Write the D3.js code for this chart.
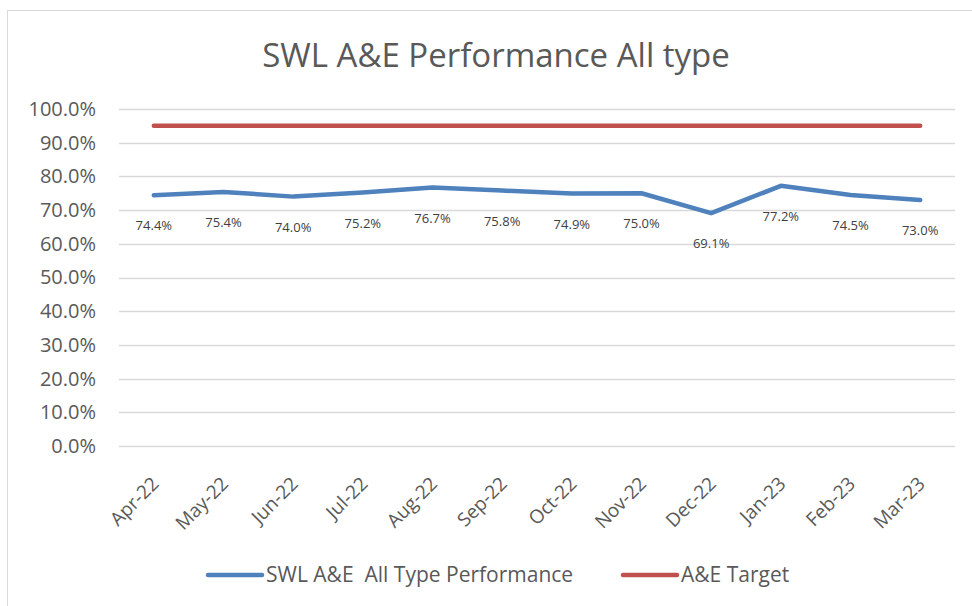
<!DOCTYPE html>
<html>
<head>
<meta charset="utf-8">
<script src="https://cdn.jsdelivr.net/npm/d3@7"></script>
<style>
body { margin: 0; background: #fff; }
</style>
</head>
<body>
<div id="root"></div>
<script>
var width = 972;
var height = 606;

// data
var months = ["Apr-22", "May-22", "Jun-22", "Jul-22", "Aug-22", "Sep-22",
	"Oct-22", "Nov-22", "Dec-22", "Jan-23", "Feb-23", "Mar-23"];
var performance = [74.4, 75.4, 74.0, 75.2, 76.7, 75.8, 74.9, 75.0, 69.1, 77.2, 74.5, 73.0];
var target = [95, 95, 95, 95, 95, 95, 95, 95, 95, 95, 95, 95];
var yTicks = [0, 10, 20, 30, 40, 50, 60, 70, 80, 90, 100];
var seriesNames = ["SWL A&E  All Type Performance", "A&E Target"];

var blue = "#4f81bd";
var red = "#c0504d";

var svg = d3.select("#root")
	.append("svg")
	.attr("width", width)
	.attr("height", height);

// chart border
svg.append("rect")
	.attr("x", 7.5)
	.attr("y", 10.5)
	.attr("width", 1000)
	.attr("height", 700)
	.attr("fill", "none")
	.attr("stroke", "#d9d9d9")
	.attr("stroke-width", 1);

// title
svg.append("text")
	.attr("x", 496)
	.attr("y", 67)
	.attr("text-anchor", "middle")
	.attr("font-family", "Open Sans")
	.attr("font-size", "33px")
	.attr("fill", "#595959")
	.text("SWL A&E Performance All type");

var x = d3.scaleBand()
	.domain(months)
	.range([119, 955]);

var y = d3.scaleLinear()
	.domain([0, 100])
	.range([446, 109]);

// gridlines
svg.append("g")
	.selectAll("line")
	.data(yTicks)
	.enter()
	.append("line")
	.attr("x1", 119)
	.attr("x2", 955)
	.attr("y1", function(d) { return Math.round(y(d)) + 0.5; })
	.attr("y2", function(d) { return Math.round(y(d)) + 0.5; })
	.attr("stroke", "#d9d9d9")
	.attr("stroke-width", 1.5);

// y axis labels
var yAxis = d3.axisLeft(y)
	.tickValues(yTicks)
	.tickSize(0)
	.tickPadding(23)
	.tickFormat(function(d) { return d.toFixed(1) + "%"; });

var yg = svg.append("g")
	.attr("transform", "translate(119,0)")
	.call(yAxis);
yg.select(".domain").remove();
yg.selectAll("text")
	.attr("font-family", "Open Sans")
	.attr("font-size", "20px")
	.attr("fill", "#595959");

// x axis labels, rotated
var xAxis = d3.axisBottom(x).tickSize(0);
var xg = svg.append("g")
	.attr("transform", "translate(0,446)")
	.call(xAxis);
xg.select(".domain").remove();
xg.selectAll("text")
	.attr("font-family", "Open Sans")
	.attr("font-size", "19px")
	.attr("fill", "#595959")
	.attr("text-anchor", "end")
	.attr("dy", 0)
	.attr("y", 0)
	.attr("transform", "translate(6,39) rotate(-45)");

function cx(d, i) { return x(months[i]) + x.bandwidth() / 2; }

var line = d3.line()
	.x(function(d, i) { return cx(d, i); })
	.y(function(d) { return y(d); });

svg.append("path")
	.datum(target)
	.attr("d", line)
	.attr("fill", "none")
	.attr("stroke", red)
	.attr("stroke-width", 4.5)
	.attr("stroke-linecap", "round")
	.attr("stroke-linejoin", "round");

svg.append("path")
	.datum(performance)
	.attr("d", line)
	.attr("fill", "none")
	.attr("stroke", blue)
	.attr("stroke-width", 4.5)
	.attr("stroke-linecap", "round")
	.attr("stroke-linejoin", "round");

// data labels below the points
svg.append("g")
	.selectAll("text")
	.data(performance)
	.enter()
	.append("text")
	.attr("x", function(d, i) { return cx(d, i); })
	.attr("y", function(d) { return y(d) + 35; })
	.attr("text-anchor", "middle")
	.attr("font-family", "Open Sans")
	.attr("font-size", "13px")
	.attr("fill", "#404040")
	.text(function(d) { return d.toFixed(1) + "%"; });

// legend
var legend = svg.append("g");
var legendX = [208, 623];
var legendColors = [blue, red];

legend.selectAll("line")
	.data(seriesNames)
	.enter()
	.append("line")
	.attr("x1", function(d, i) { return legendX[i]; })
	.attr("x2", function(d, i) { return legendX[i] + 54; })
	.attr("y1", 575)
	.attr("y2", 575)
	.attr("stroke", function(d, i) { return legendColors[i]; })
	.attr("stroke-width", 4.5)
	.attr("stroke-linecap", "round");

legend.selectAll("text")
	.data(seriesNames)
	.enter()
	.append("text")
	.attr("x", function(d, i) { return legendX[i] + 58; })
	.attr("y", 582)
	.attr("font-family", "Open Sans")
	.attr("font-size", "21px")
	.attr("fill", "#595959")
	.style("white-space", "pre")
	.text(function(d) { return d; });
</script>
</body>
</html>
